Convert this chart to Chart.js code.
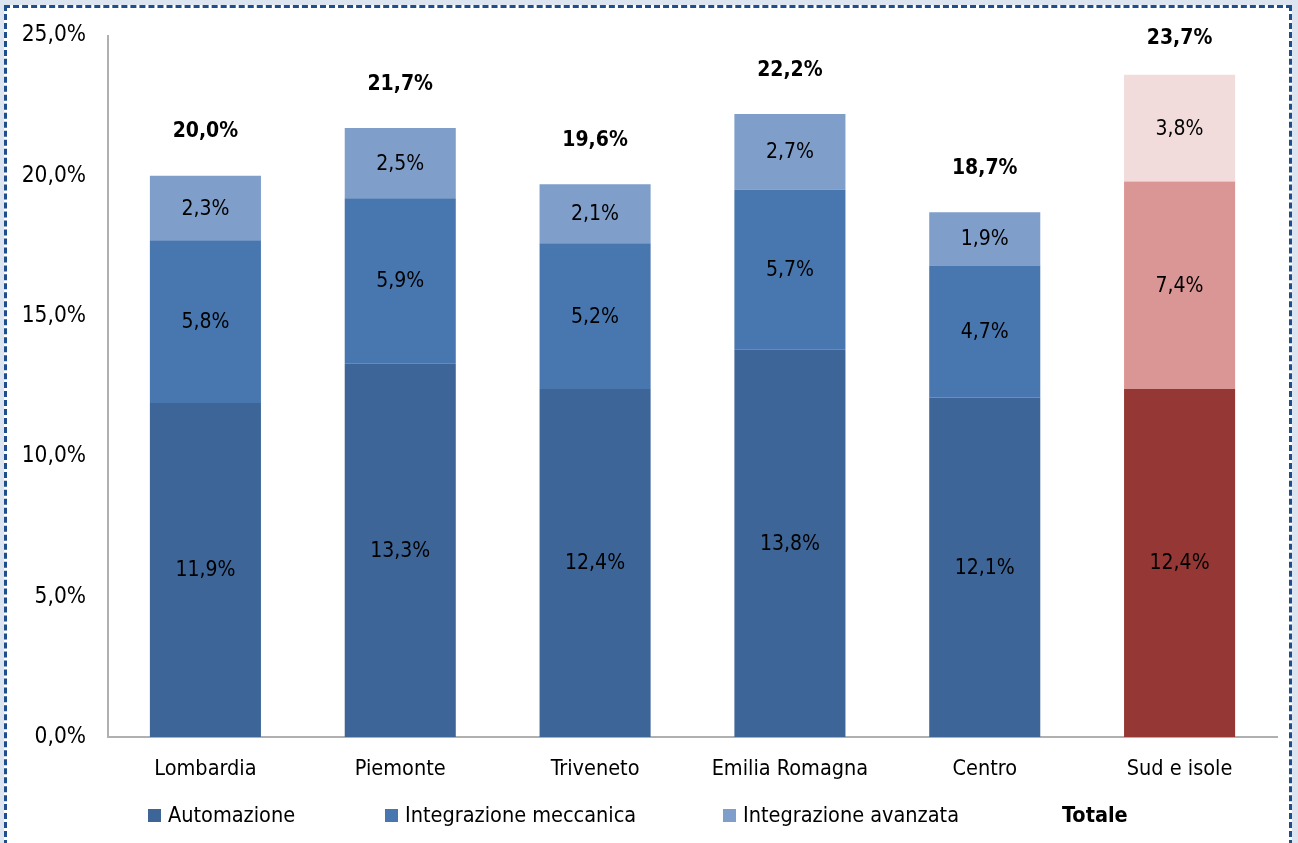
<!DOCTYPE html>
<html>
<head>
<meta charset="utf-8">
<script src="https://cdn.jsdelivr.net/npm/chart.js@4/dist/chart.umd.min.js"></script>
<style>
  html, body { margin: 0; padding: 0; }
  body { width: 1298px; height: 843px; background: #dce5f0; overflow: hidden; position: relative;
         font-family: "DejaVu Sans Condensed", "Liberation Sans", sans-serif; }
  #frame { position: absolute; left: 4px; top: 5px; width: 1288px; height: 850px;
           border: 3px dashed #1f4e8c; background: #fff; box-sizing: border-box; }
  #wrap { position: absolute; left: 0; top: 0; width: 1298px; height: 843px; }
  #legend { position: absolute; top: 800px; left: 0; width: 1298px; height: 30px; font-size: 21.5px; color: #000; }
  #legend span.item { position: absolute; top: 0; line-height: 30px; white-space: nowrap; }
  #legend i { display: inline-block; width: 13px; height: 13px; margin-right: 7px; vertical-align: 0px; }
</style>
</head>
<body>
<div id="frame"></div>
<div id="wrap"><canvas id="chart" width="1298" height="843"></canvas></div>
<div id="legend"></div>
<script>
const regioni = ['Lombardia', 'Piemonte', 'Triveneto', 'Emilia Romagna', 'Centro', 'Sud e isole'];
const automazione = [11.9, 13.3, 12.4, 13.8, 12.1, 12.4];
const integrazioneMeccanica = [5.8, 5.9, 5.2, 5.7, 4.7, 7.4];
const integrazioneAvanzata = [2.3, 2.5, 2.1, 2.7, 1.9, 3.8];
const totale = [20.0, 21.7, 19.6, 22.2, 18.7, 23.7];
const yTicks = [0, 5, 10, 15, 20, 25];

// colori: blu per le regioni, rosso per il Sud
const blu = ['#3d6597', '#4877b0', '#7f9ec9'];
const rosso = ['#953735', '#da9694', '#f2dcdb'];
const colori = idx => regioni.map((r, i) => i === regioni.length - 1 ? rosso[idx] : blu[idx]);

const fmt = v => v.toFixed(1).replace('.', ',') + '%';
const FONT = '"DejaVu Sans Condensed", "Liberation Sans", sans-serif';

function serie(label, data, idx) {
  return {
    label: label,
    data: data,
    backgroundColor: colori(idx),
    borderWidth: 0,
    barPercentage: 0.57,
    categoryPercentage: 1.0
  };
}

// etichette dentro le barre e totali sopra
const etichette = {
  id: 'etichette',
  afterDatasetsDraw(chart) {
    const ctx = chart.ctx;
    ctx.save();
    ctx.textAlign = 'center';
    ctx.textBaseline = 'middle';
    ctx.fillStyle = '#000';
    ctx.font = '21px ' + FONT;
    chart.data.datasets.forEach((ds, di) => {
      chart.getDatasetMeta(di).data.forEach((bar, i) => {
        const mid = (bar.y + bar.base) / 2;
        ctx.fillText(fmt(ds.data[i]), bar.x, mid + 1);
      });
    });
    ctx.font = 'bold 21px ' + FONT;
    const y = chart.scales.y;
    const top = chart.getDatasetMeta(chart.data.datasets.length - 1).data;
    totale.forEach((t, i) => {
      const somma = automazione[i] + integrazioneMeccanica[i] + integrazioneAvanzata[i];
      const py = Math.max(39, y.getPixelForValue(somma) - 44);
      ctx.fillText(fmt(t), top[i].x, py);
    });
    ctx.restore();
  }
};

new Chart(document.getElementById('chart'), {
  type: 'bar',
  data: {
    labels: regioni,
    datasets: [
      serie('Automazione', automazione, 0),
      serie('Integrazione meccanica', integrazioneMeccanica, 1),
      serie('Integrazione avanzata', integrazioneAvanzata, 2)
    ]
  },
  options: {
    responsive: false,
    animation: false,
    layout: { padding: { top: 32, right: 21, left: 0, bottom: 0 } },
    plugins: { legend: { display: false }, tooltip: { enabled: false } },
    scales: {
      x: {
        stacked: true,
        grid: { display: false, drawTicks: false },
        border: { color: '#b0b0b0', width: 2 },
        ticks: { color: '#000', font: { family: FONT, size: 21.5 }, padding: 20, maxRotation: 0 },
        afterFit(scale) { scale.height = 106; }
      },
      y: {
        stacked: true,
        min: 0,
        max: 25,
        grid: { display: false, drawTicks: false },
        border: { color: '#b0b0b0', width: 2 },
        afterBuildTicks(scale) { scale.ticks = yTicks.map(v => ({ value: v })); },
        ticks: { color: '#000', font: { family: FONT, size: 22.5 }, padding: 22, callback: v => fmt(v) },
        afterFit(scale) { scale.width = 108; }
      }
    }
  },
  plugins: [etichette]
});

// legenda
const legenda = [
  { testo: 'Automazione', colore: blu[0], x: 148 },
  { testo: 'Integrazione meccanica', colore: blu[1], x: 385 },
  { testo: 'Integrazione avanzata', colore: blu[2], x: 723 },
  { testo: 'Totale', colore: null, x: 1062 }
];
const leg = document.getElementById('legend');
legenda.forEach(l => {
  const s = document.createElement('span');
  s.className = 'item';
  s.style.left = l.x + 'px';
  if (l.colore) {
    const q = document.createElement('i');
    q.style.background = l.colore;
    s.appendChild(q);
  } else {
    s.style.fontWeight = 'bold';
  }
  s.appendChild(document.createTextNode(l.testo));
  leg.appendChild(s);
});
</script>
</body>
</html>
